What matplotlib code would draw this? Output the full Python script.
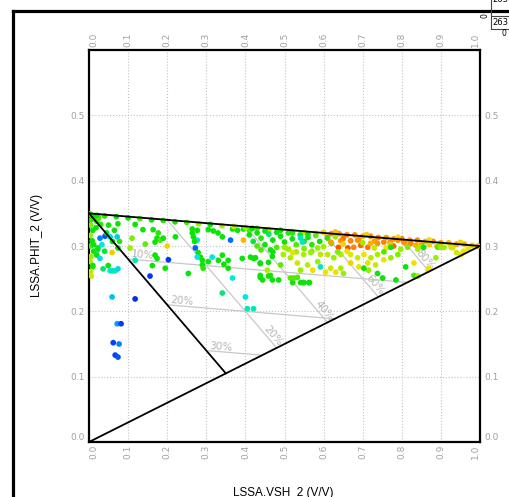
import numpy as np
import matplotlib
matplotlib.use("Agg")
import matplotlib.pyplot as plt
from matplotlib.colors import LinearSegmentedColormap
from matplotlib.lines import Line2D
from matplotlib.patches import Rectangle
from matplotlib.transforms import ScaledTranslation

# Thomas-Stieber model parameters
phi_clean = 0.35
phi_shale = 0.30
laminar_fracs = [0.2, 0.4, 0.6, 0.8]
dispersed_fracs = [0.1, 0.2, 0.3]

x_ticks = [0.0, 0.1, 0.2, 0.3, 0.4, 0.5, 0.6, 0.7, 0.8, 0.9, 1.0]
y_ticks = [0.0, 0.1, 0.2, 0.3, 0.4, 0.5]
x_label = "LSSA.VSH_2 (V/V)"
y_label = "LSSA.PHIT_2 (V/V)"
point_count = "263"

# --- points (vsh, phit, colour value 0..1) ---
# left edge strip
edge_vsh = [0.003, 0.006, 0.004, 0.01, 0.003, 0.008, 0.004, 0.012, 0.005, 0.003,
            0.009, 0.004, 0.006, 0.015, 0.02, 0.025, 0.018, 0.03, 0.012, 0.022]
edge_phit = [0.349, 0.340, 0.332, 0.324, 0.316, 0.308, 0.300, 0.292, 0.284, 0.276,
             0.268, 0.261, 0.254, 0.345, 0.338, 0.343, 0.328, 0.333, 0.302, 0.294]
edge_z = [0.55, 0.52, 0.58, 0.5, 0.6, 0.5, 0.55, 0.5, 0.6, 0.62,
          0.52, 0.64, 0.66, 0.5, 0.52, 0.55, 0.5, 0.52, 0.5, 0.45]

# near the dispersed line, and the low blue group
left_vsh = [0.028, 0.041, 0.054, 0.072, 0.06, 0.023, 0.033, 0.02, 0.028, 0.059,
            0.045, 0.074, 0.078, 0.01, 0.036, 0.049, 0.054, 0.067, 0.074, 0.04,
            0.05, 0.065, 0.061,
            0.059, 0.118, 0.072, 0.082, 0.062, 0.077, 0.067, 0.074]
left_phit = [0.312, 0.315, 0.314, 0.314, 0.307, 0.297, 0.302, 0.286, 0.281, 0.290,
             0.320, 0.297, 0.307, 0.270, 0.265, 0.270, 0.262, 0.262, 0.265, 0.292,
             0.332, 0.324, 0.262,
             0.222, 0.219, 0.181, 0.181, 0.152, 0.150, 0.133, 0.130]
left_z = [0.25, 0.18, 0.38, 0.36, 0.5, 0.5, 0.4, 0.5, 0.38, 0.73,
          0.48, 0.5, 0.52, 0.5, 0.45, 0.5, 0.4, 0.4, 0.38, 0.48,
          0.5, 0.5, 0.42,
          0.35, 0.1, 0.3, 0.12, 0.15, 0.25, 0.15, 0.18]

# middle scatter inside the triangle
mid_vsh = [0.118, 0.074, 0.138, 0.164, 0.177, 0.174, 0.182, 0.169, 0.110, 0.105,
           0.144, 0.118, 0.2, 0.203, 0.156, 0.169, 0.174, 0.162, 0.195, 0.19,
           0.254, 0.272, 0.277, 0.279, 0.285, 0.29, 0.29, 0.292, 0.27, 0.315,
           0.341, 0.345, 0.367, 0.362, 0.395, 0.413, 0.341, 0.305, 0.318, 0.33,
           0.264, 0.267, 0.221, 0.305, 0.331, 0.356, 0.392, 0.421, 0.438, 0.459,
           0.356, 0.341, 0.4, 0.405, 0.421, 0.438, 0.444, 0.464, 0.469, 0.515,
           0.521, 0.533, 0.541, 0.549, 0.562, 0.277, 0.367, 0.38, 0.395, 0.41,
           0.418, 0.264, 0.277]
mid_phit = [0.333, 0.334, 0.325, 0.325, 0.320, 0.312, 0.309, 0.306, 0.312, 0.297,
            0.303, 0.278, 0.300, 0.279, 0.254, 0.286, 0.281, 0.270, 0.266, 0.312,
            0.258, 0.297, 0.309, 0.290, 0.283, 0.278, 0.271, 0.266, 0.307, 0.283,
            0.286, 0.272, 0.251, 0.309, 0.309, 0.283, 0.314, 0.325, 0.323, 0.320,
            0.320, 0.314, 0.314, 0.276, 0.278, 0.278, 0.281, 0.281, 0.273, 0.275,
            0.266, 0.228, 0.222, 0.204, 0.204, 0.255, 0.248, 0.255, 0.248, 0.251,
            0.244, 0.252, 0.244, 0.244, 0.244, 0.283, 0.326, 0.324, 0.326, 0.324,
            0.327, 0.326, 0.324]
mid_z = [0.5, 0.5, 0.5, 0.5, 0.52, 0.5, 0.55, 0.5, 0.58, 0.6,
         0.56, 0.42, 0.72, 0.12, 0.12, 0.5, 0.5, 0.5, 0.5, 0.5,
         0.5, 0.2, 0.4, 0.5, 0.5, 0.5, 0.5, 0.52, 0.5, 0.4,
         0.5, 0.5, 0.4, 0.22, 0.75, 0.5, 0.5, 0.5, 0.5, 0.5,
         0.5, 0.5, 0.5, 0.5, 0.5, 0.5, 0.5, 0.5, 0.5, 0.5,
         0.5, 0.45, 0.4, 0.42, 0.42, 0.5, 0.5, 0.52, 0.5, 0.55,
         0.5, 0.55, 0.5, 0.5, 0.5, 0.4, 0.5, 0.5, 0.5, 0.55,
         0.5, 0.5, 0.5]

# along the laminar (top) line
top_vsh = [0.0, 0.02, 0.04, 0.07, 0.10, 0.13, 0.16, 0.19, 0.22, 0.25,
           0.28, 0.31, 0.34, 0.37, 0.40, 0.43, 0.46, 0.49, 0.52, 0.55, 0.58,
           0.60, 0.62, 0.64, 0.66, 0.68, 0.70, 0.72, 0.74, 0.76, 0.78,
           0.80, 0.82, 0.84, 0.86, 0.88, 0.90, 0.92, 0.94, 0.96, 0.98, 0.995,
           0.61, 0.65, 0.69, 0.73, 0.77, 0.81, 0.85, 0.89, 0.93, 0.97,
           0.63, 0.71, 0.79, 0.87, 0.95]
top_phit = [0.349, 0.347, 0.346, 0.345, 0.343, 0.342, 0.340, 0.339, 0.337, 0.336,
            0.334, 0.333, 0.331, 0.330, 0.328, 0.327, 0.325, 0.324, 0.322, 0.321, 0.319,
            0.321, 0.319, 0.319, 0.317, 0.317, 0.315, 0.315, 0.313, 0.313, 0.311,
            0.311, 0.309, 0.309, 0.307, 0.307, 0.305, 0.305, 0.303, 0.303, 0.301, 0.300,
            0.3135, 0.3115, 0.3095, 0.3075, 0.3055, 0.3035, 0.3015, 0.2995, 0.2975, 0.2955,
            0.3215, 0.3175, 0.3135, 0.3095, 0.3055]
top_z = [0.55, 0.5, 0.52, 0.5, 0.5, 0.55, 0.5, 0.52, 0.5, 0.55,
         0.6, 0.5, 0.62, 0.66, 0.6, 0.55, 0.62, 0.5, 0.58, 0.66, 0.7,
         0.72, 0.8, 0.78, 0.82, 0.8, 0.76, 0.82, 0.8, 0.78, 0.8,
         0.82, 0.78, 0.8, 0.76, 0.8, 0.78, 0.74, 0.78, 0.76, 0.72, 0.74,
         0.8, 0.84, 0.8, 0.78, 0.82, 0.76, 0.8, 0.74, 0.72, 0.7,
         0.74, 0.72, 0.7, 0.7, 0.72]

# dense green band under the top line
band_vsh = [0.41, 0.42, 0.43, 0.44, 0.45, 0.46, 0.47, 0.48, 0.49, 0.50,
            0.51, 0.51, 0.52, 0.53, 0.54, 0.55, 0.55, 0.56, 0.57, 0.58,
            0.59, 0.60, 0.61, 0.62, 0.63, 0.44, 0.47, 0.53, 0.57, 0.48,
            0.52, 0.56, 0.585, 0.45, 0.43, 0.50, 0.541, 0.546]
band_phit = [0.317, 0.307, 0.320, 0.312, 0.302, 0.318, 0.309, 0.298, 0.315, 0.306,
             0.320, 0.295, 0.311, 0.302, 0.317, 0.307, 0.296, 0.313, 0.302, 0.316,
             0.307, 0.299, 0.312, 0.304, 0.314, 0.294, 0.291, 0.291, 0.292, 0.321,
             0.320, 0.318, 0.297, 0.323, 0.300, 0.298, 0.312, 0.306]
band_z = [0.5, 0.48, 0.5, 0.52, 0.5, 0.45, 0.5, 0.55, 0.5, 0.5,
          0.52, 0.6, 0.5, 0.55, 0.48, 0.5, 0.58, 0.5, 0.52, 0.56,
          0.5, 0.6, 0.52, 0.55, 0.6, 0.55, 0.5, 0.62, 0.58, 0.5,
          0.52, 0.5, 0.6, 0.5, 0.55, 0.6, 0.42, 0.42]

# orange / red cluster
hot_vsh = [0.638, 0.662, 0.677, 0.695, 0.713, 0.738, 0.754, 0.779, 0.79, 0.805,
           0.823, 0.836, 0.618, 0.644, 0.669, 0.687, 0.65, 0.72, 0.76, 0.70,
           0.73, 0.77, 0.66, 0.85, 0.87]
hot_phit = [0.298, 0.297, 0.298, 0.301, 0.298, 0.304, 0.306, 0.300, 0.309, 0.306,
            0.304, 0.301, 0.306, 0.308, 0.308, 0.309, 0.303, 0.304, 0.297, 0.305,
            0.297, 0.303, 0.292, 0.299, 0.302]
hot_z = [0.88, 0.9, 0.82, 0.86, 0.84, 0.8, 0.82, 0.86, 0.8, 0.8,
         0.82, 0.76, 0.78, 0.8, 0.82, 0.8, 0.72, 0.76, 0.7, 0.6,
         0.65, 0.74, 0.7, 0.6, 0.72]

# yellow cluster
warm_vsh = [0.497, 0.521, 0.515, 0.533, 0.541, 0.559, 0.572, 0.585, 0.592, 0.605,
            0.618, 0.631, 0.644, 0.651, 0.669, 0.687, 0.703, 0.721, 0.738, 0.754,
            0.772, 0.79, 0.713, 0.669, 0.69, 0.715, 0.733, 0.644, 0.626, 0.610,
            0.636, 0.549, 0.567, 0.592, 0.754, 0.772, 0.797, 0.815, 0.841, 0.856,
            0.892, 0.908, 0.926]
warm_phit = [0.287, 0.290, 0.282, 0.274, 0.263, 0.271, 0.263, 0.276, 0.268, 0.260,
             0.266, 0.260, 0.266, 0.258, 0.287, 0.282, 0.287, 0.282, 0.287, 0.279,
             0.282, 0.287, 0.274, 0.274, 0.268, 0.263, 0.271, 0.287, 0.282, 0.287,
             0.291, 0.287, 0.290, 0.287, 0.291, 0.298, 0.295, 0.298, 0.295, 0.298,
             0.298, 0.298, 0.298]
warm_z = [0.62, 0.68, 0.62, 0.66, 0.6, 0.64, 0.7, 0.6, 0.42, 0.7,
          0.66, 0.7, 0.62, 0.6, 0.68, 0.66, 0.7, 0.64, 0.62, 0.7,
          0.6, 0.58, 0.68, 0.72, 0.7, 0.6, 0.66, 0.62, 0.6, 0.64,
          0.58, 0.62, 0.6, 0.64, 0.55, 0.5, 0.6, 0.58, 0.62, 0.5,
          0.55, 0.6, 0.66]

# lower scatter on the right
low_vsh = [0.438, 0.459, 0.485, 0.523, 0.549, 0.564, 0.426, 0.438, 0.469, 0.456,
           0.49, 0.464, 0.703, 0.751, 0.785, 0.81, 0.831, 0.841, 0.831, 0.869,
           0.887, 0.951, 0.867, 0.738, 0.9, 0.958, 0.94]
low_phit = [0.252, 0.254, 0.248, 0.251, 0.244, 0.244, 0.282, 0.274, 0.284, 0.263,
            0.271, 0.294, 0.266, 0.251, 0.248, 0.268, 0.255, 0.254, 0.274, 0.266,
            0.282, 0.287, 0.263, 0.258, 0.298, 0.292, 0.29]
low_z = [0.5, 0.5, 0.5, 0.55, 0.5, 0.5, 0.5, 0.5, 0.5, 0.62,
         0.56, 0.5, 0.5, 0.5, 0.5, 0.5, 0.55, 0.6, 0.7, 0.7,
         0.6, 0.7, 0.7, 0.5, 0.6, 0.7, 0.66]

vsh = edge_vsh + left_vsh + mid_vsh + top_vsh + band_vsh + hot_vsh + warm_vsh + low_vsh
phit = edge_phit + left_phit + mid_phit + top_phit + band_phit + hot_phit + warm_phit + low_phit
zval = edge_z + left_z + mid_z + top_z + band_z + hot_z + warm_z + low_z

cmap = LinearSegmentedColormap.from_list("logcol", [
    (0.0, "#0010e0"), (0.15, "#0040ff"), (0.3, "#00a0ff"), (0.4, "#00e8e0"),
    (0.5, "#08e408"), (0.6, "#98f000"), (0.7, "#f0e400"), (0.8, "#ff9000"),
    (0.9, "#ff4800"), (1.0, "#e00000")])

W, H = 509, 497
fig = plt.figure(figsize=(W / 100, H / 100), dpi=100)
ax = fig.add_axes([89 / W, 55 / H, 391 / W, 392 / H])
ax.set_xlim(0, 1)
ax.set_ylim(0, 0.6)

grey_txt = "#a0a0a0"
ax.set_xticks(x_ticks)
ax.set_xticklabels([f"{v:.1f}" for v in x_ticks])
ax.set_yticks(y_ticks)
ax.set_yticklabels([f"{v:.1f}" for v in y_ticks])
ax.tick_params(axis="x", bottom=True, top=True, labelbottom=True, labeltop=True,
               labelrotation=90, length=0, pad=2, labelsize=6.5, labelcolor=grey_txt)
ax.tick_params(axis="y", left=True, right=True, labelleft=True, labelright=True,
               length=0, pad=3, labelsize=6.5, labelcolor=grey_txt)
xt = ax.xaxis.get_major_ticks()
for lab in (xt[0].label1, xt[0].label2):
    lab.set_ha("left")
for lab in (xt[-1].label1, xt[-1].label2):
    lab.set_ha("right")
yt = ax.yaxis.get_major_ticks()
for lab in (yt[0].label1, yt[0].label2):
    lab.set_va("bottom")

ax.grid(True, ls=":", color="#c4c4c4", lw=0.8)
ax.set_axisbelow(True)
for sp in ax.spines.values():
    sp.set_linewidth(1.6)
    sp.set_color("black")

# iso lines inside the triangle
iso_col = "#c8c8c8"
lab_col = "#b4b4b4"
D = (phi_clean, phi_clean * phi_shale)


def screen_angle(p0, p1):
    a = ax.transData.transform(p0)
    b = ax.transData.transform(p1)
    return np.degrees(np.arctan2(b[1] - a[1], b[0] - a[0]))


for L in laminar_fracs:
    p0 = (L, L * phi_shale + (1 - L) * phi_clean)
    p1 = (L + (1 - L) * phi_clean, L * phi_shale + (1 - L) * D[1])
    ax.plot([p0[0], p1[0]], [p0[1], p1[1]], color=iso_col, lw=0.9, zorder=1)
    ang = screen_angle(p0, p1)
    ax.text(p1[0], p1[1], f"{int(round(L * 100))}%", color=lab_col, fontsize=7.5,
            rotation=ang, rotation_mode="anchor", ha="right", va="bottom", zorder=1)

for V in dispersed_fracs:
    p0 = (V, phi_clean - V * (1 - phi_shale))
    t = 1 - V / phi_clean
    p1 = (D[0] + t * (1 - D[0]), D[1] + t * (phi_shale - D[1]))
    ax.plot([p0[0], p1[0]], [p0[1], p1[1]], color=iso_col, lw=0.9, zorder=1)
    ang = screen_angle(p0, p1)
    ax.text(p0[0], p0[1], f"{int(round(V * 100))}%", color=lab_col, fontsize=7.5,
            rotation=ang, rotation_mode="anchor", ha="left", va="bottom", zorder=1,
            transform=ax.transData + ScaledTranslation(2 / 72, 0, fig.dpi_scale_trans))

ax.scatter(vsh, phit, c=zval, cmap=cmap, vmin=0, vmax=1, s=17, linewidths=0, zorder=3)

# model lines
ax.plot([0, 1], [phi_clean, phi_shale], color="black", lw=1.3, zorder=4)
ax.plot([0, 1], [0, phi_shale], color="black", lw=1.3, zorder=4)
ax.plot([0, D[0]], [phi_clean, D[1]], color="black", lw=1.3, zorder=4)

# labels
fig.text(37 / W, 1 - 245 / H, y_label, rotation=90, ha="center", va="center",
         fontsize=8.5, family="Liberation Sans")
fig.text(283 / W, 1 - 487 / H, x_label, ha="center", va="top",
         fontsize=8.5, family="Liberation Sans")

# outer frame (cut by the image edges)
fig.add_artist(Line2D([13 / W, 13 / W], [-0.05, 1 - 11 / H], transform=fig.transFigure,
                      color="black", lw=2.3))
fig.add_artist(Line2D([13 / W, 1.05], [1 - 11 / H, 1 - 11 / H], transform=fig.transFigure,
                      color="black", lw=2.3))

# small count box in the top right corner
fig.add_artist(Rectangle((491 / W, 1 - 29 / H), 30 / W, 13 / H, transform=fig.transFigure,
                         fill=False, lw=0.8, edgecolor="#444444"))
fig.add_artist(Line2D([491 / W, 491 / W], [1 - 16 / H, 1.0], transform=fig.transFigure,
                      color="#444444", lw=0.8))
fig.text(500 / W, 1 - 22.5 / H, point_count, ha="center", va="center", fontsize=6)
fig.text(500 / W, 1 + 1 / H, point_count, ha="center", va="center", fontsize=6)
fig.text(485 / W, 1 - 16 / H, "0", ha="center", va="center", fontsize=5.5, rotation=90)
fig.text(504 / W, 1 - 34 / H, "0", ha="center", va="center", fontsize=5.5)

fig.savefig("out.png", dpi=100)
